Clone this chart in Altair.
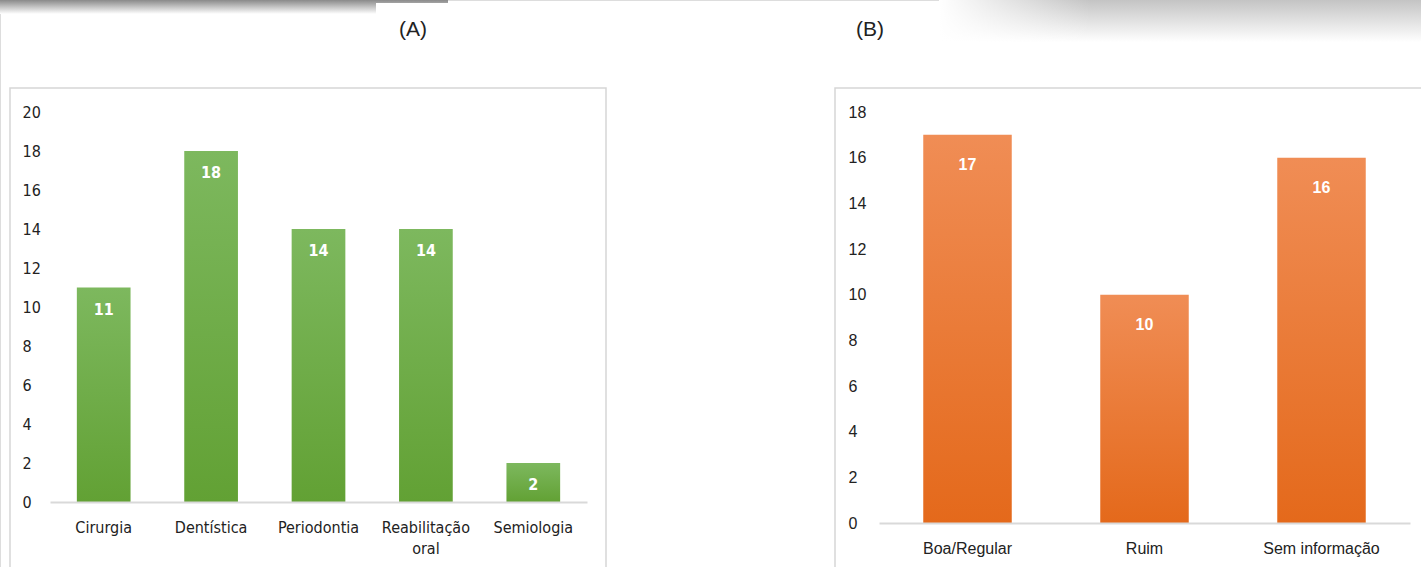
import altair as alt
import pandas as pd

# ---- data ----
cats_a = ["Cirurgia", "Dentística", "Periodontia", "Reabilitação oral", "Semiologia"]
vals_a = [11, 18, 14, 14, 2]
cats_b = ["Boa/Regular", "Ruim", "Sem informação"]
vals_b = [17, 10, 16]
ticks_a = [0, 2, 4, 6, 8, 10, 12, 14, 16, 18, 20]
ticks_b = [0, 2, 4, 6, 8, 10, 12, 14, 16, 18]

df_a = pd.DataFrame({"cat_a": cats_a, "val_a": vals_a})
df_b = pd.DataFrame({"cat_b": cats_b, "val_b": vals_b})
one = pd.DataFrame({"k": [0]})

W, H = 1421, 567
NARROW = "'Liberation Sans Narrow', 'Arial Narrow', 'DejaVu Sans Condensed', 'Liberation Sans', Arial, sans-serif"
REG = "'Liberation Sans', Arial, sans-serif"

green = alt.Gradient(
    gradient="linear", x1=0, x2=0, y1=0, y2=1,
    stops=[alt.GradientStop(color="#7db85e", offset=0),
           alt.GradientStop(color="#62a134", offset=1)],
)
orange = alt.Gradient(
    gradient="linear", x1=0, x2=0, y1=0, y2=1,
    stops=[alt.GradientStop(color="#f08d55", offset=0),
           alt.GradientStop(color="#e4691b", offset=1)],
)

# scales
xs_a = alt.Scale(domain=cats_a, range=[50, 587], paddingInner=0.5, paddingOuter=0.25)
ys_a = alt.Scale(domain=[0, 20], range=[502, 112], nice=False)
xs_b = alt.Scale(domain=cats_b, range=[879, 1410], paddingInner=0.5, paddingOuter=0.25)
ys_b = alt.Scale(domain=[0, 18], range=[523, 112], nice=False)

# decorative scan artifacts at the top
shade_l = alt.Chart(one).mark_rect(
    color=alt.Gradient(gradient="linear", x1=0, x2=0, y1=0, y2=1,
                       stops=[alt.GradientStop(color="#8a8a8a", offset=0),
                              alt.GradientStop(color="#ffffff", offset=1)])
).encode(x=alt.value(0), x2=alt.value(448), y=alt.value(0), y2=alt.value(14))
patch_l = alt.Chart(one).mark_rect(color="white").encode(
    x=alt.value(376), x2=alt.value(460), y=alt.value(3), y2=alt.value(16))
shade_r = alt.Chart(one).mark_rect(
    color=alt.Gradient(gradient="linear", x1=0, x2=0, y1=0, y2=1,
                       stops=[alt.GradientStop(color="#c4c4c4", offset=0),
                              alt.GradientStop(color="#ffffff", offset=1)])
).encode(x=alt.value(940), x2=alt.value(1421), y=alt.value(0), y2=alt.value(42))
fade_r = alt.Chart(one).mark_rect(
    color=alt.Gradient(gradient="linear", x1=0, x2=1, y1=0, y2=0,
                       stops=[alt.GradientStop(color="rgba(255,255,255,1)", offset=0),
                              alt.GradientStop(color="rgba(255,255,255,0)", offset=1)])
).encode(x=alt.value(939), x2=alt.value(1090), y=alt.value(0), y2=alt.value(43))

# frames
frame_a = alt.Chart(one).mark_rect(fill="white", stroke="#d6d6d6", strokeWidth=1.5).encode(
    x=alt.value(10), x2=alt.value(606), y=alt.value(88), y2=alt.value(580))
frame_b = alt.Chart(one).mark_rect(fill="white", stroke="#d6d6d6", strokeWidth=1.5).encode(
    x=alt.value(835), x2=alt.value(1440), y=alt.value(88), y2=alt.value(580))

# panel titles
title_a = alt.Chart(one).mark_text(text="(A)", font=REG, fontSize=21, color="#222222").encode(
    x=alt.value(413), y=alt.value(30))
title_b = alt.Chart(one).mark_text(text="(B)", font=REG, fontSize=21, color="#222222").encode(
    x=alt.value(870), y=alt.value(30))

# panel A
bars_a = alt.Chart(df_a).mark_bar(color=green).encode(
    x=alt.X("cat_a:N", scale=xs_a, title=None,
            axis=alt.Axis(orient="bottom", offset=-(H - 502), labelAngle=0, zindex=1,
                          labelFont=NARROW, labelFontSize=16, labelColor="#222222",
                          labelPadding=17, ticks=False, domainColor="#d9d9d9", domainWidth=2,
                          labelExpr="datum.value == 'Reabilitação oral' ? ['Reabilitação', 'oral'] : datum.label",
                          labelBaseline="top", labelLineHeight=21)),
    y=alt.Y("val_a:Q", scale=ys_a, title=None,
            axis=alt.Axis(orient="left", offset=-50, values=ticks_a, grid=False, domain=False,
                          ticks=False, tickSize=0, labelAlign="left", labelPadding=28, zindex=1,
                          labelFont=NARROW, labelFontSize=16, labelColor="#222222")),
)
text_a = alt.Chart(df_a).mark_text(font=NARROW, fontSize=16, fontWeight="bold",
                                   color="white", baseline="middle", dy=22).encode(
    x=alt.X("cat_a:N", scale=xs_a, axis=None),
    y=alt.Y("val_a:Q", scale=ys_a, axis=None),
    text="val_a:Q",
)

# panel B
bars_b = alt.Chart(df_b).mark_bar(color=orange).encode(
    x=alt.X("cat_b:N", scale=xs_b, title=None,
            axis=alt.Axis(orient="bottom", offset=-(H - 523), labelAngle=0, zindex=1,
                          labelFont=REG, labelFontSize=16, labelColor="#222222",
                          labelPadding=17, ticks=False, domainColor="#d9d9d9", domainWidth=2,
                          labelBaseline="top")),
    y=alt.Y("val_b:Q", scale=ys_b, title=None,
            axis=alt.Axis(orient="left", offset=-879, values=ticks_b, grid=False, domain=False,
                          ticks=False, tickSize=0, labelAlign="left", labelPadding=31, zindex=1,
                          labelFont=REG, labelFontSize=16, labelColor="#222222")),
)
text_b = alt.Chart(df_b).mark_text(font=REG, fontSize=16, fontWeight="bold",
                                   color="white", baseline="middle", dy=30).encode(
    x=alt.X("cat_b:N", scale=xs_b, axis=None),
    y=alt.Y("val_b:Q", scale=ys_b, axis=None),
    text="val_b:Q",
)

chart = alt.layer(
    shade_l, patch_l, shade_r, fade_r, frame_a, frame_b, title_a, title_b,
    bars_a, text_a, bars_b, text_b,
).resolve_scale(x="independent", y="independent").resolve_axis(
    x="independent", y="independent"
).properties(
    width=W, height=H, padding=0,
    autosize=alt.AutoSizeParams(type="none"),
).configure_view(stroke=None).configure(background="white")

chart.save("out.html", embed_options={"renderer": "svg", "actions": False})
